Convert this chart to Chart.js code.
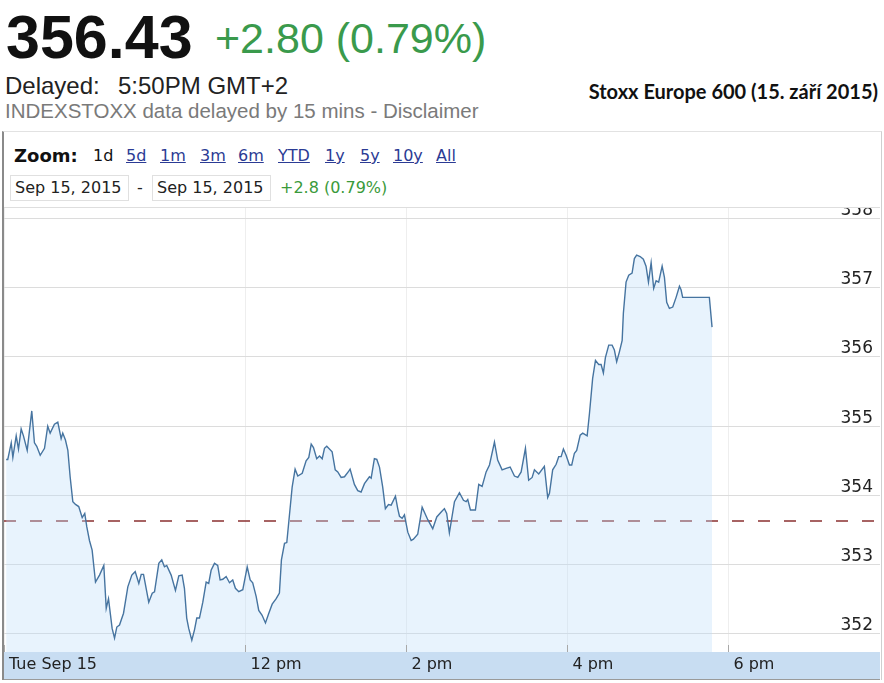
<!DOCTYPE html>
<html>
<head>
<meta charset="utf-8">
<script src="https://cdn.jsdelivr.net/npm/chart.js@4/dist/chart.umd.min.js"></script>
<style>
  body { margin: 0; background: #fff; }
  #page { position: relative; width: 884px; height: 683px; overflow: hidden; background: #fff; }
  .t { position: absolute; white-space: nowrap; line-height: 1; }
  .arial { font-family: "Liberation Sans", Arial, sans-serif; }
  .dv { font-family: "DejaVu Sans", Verdana, sans-serif; font-size: 16px; }
  #frame { position: absolute; left: 2px; top: 131px; width: 877px; height: 548px;
           border-left: 2px solid #8a8a8a; border-right: 1px solid #cfcfcf; border-top: 1px solid #e2e2e2; }
  #panel { position: absolute; left: 4px; top: 132px; width: 876px; height: 75px; background: #fff;
           border-bottom: 1px solid #dedede; z-index: 2; }
  .box { position: absolute; top: 175px; height: 24px; border: 1px solid #e0e0e0; z-index: 3; }
  .lnk { color: #2b3b94; text-decoration: underline; }
  canvas { position: absolute; left: 0; top: 196px; }
</style>
</head>
<body>
<div id="page">
  <div class="t arial" style="left:6px;top:7px;font-size:61px;font-weight:bold;color:#111;">356.43</div>
  <div class="t arial" style="left:215px;top:17px;font-size:43px;color:#3a9a4c;">+2.80 (0.79%)</div>
  <div class="t arial" style="left:5px;top:74px;font-size:24px;color:#222;">Delayed:</div>
  <div class="t arial" style="left:118px;top:74px;font-size:24px;color:#222;">5:50PM GMT+2</div>
  <div class="t arial" style="left:5px;top:101px;font-size:20.5px;color:#7a7a7a;">INDEXSTOXX data delayed by 15 mins - Disclaimer</div>
  <div class="t" style="right:6px;top:81px;font-size:20px;font-weight:bold;color:#111;font-family:Lato,'Open Sans',sans-serif;">Stoxx Europe 600 (15. září 2015)</div>

  <div id="frame"></div>
  <canvas id="chart" width="884" height="487"></canvas>
  <div id="panel"></div>

  <div class="t dv" style="left:14px;top:147px;font-size:18px;font-weight:bold;color:#111;z-index:3;">Zoom:</div>
  <div class="t dv" style="left:93px;top:148px;color:#111;z-index:3;">1d</div>
  <div class="t dv lnk" style="left:126px;top:148px;z-index:3;">5d</div>
  <div class="t dv lnk" style="left:160px;top:148px;z-index:3;">1m</div>
  <div class="t dv lnk" style="left:200px;top:148px;z-index:3;">3m</div>
  <div class="t dv lnk" style="left:238px;top:148px;z-index:3;">6m</div>
  <div class="t dv lnk" style="left:278px;top:148px;z-index:3;">YTD</div>
  <div class="t dv lnk" style="left:325px;top:148px;z-index:3;">1y</div>
  <div class="t dv lnk" style="left:360px;top:148px;z-index:3;">5y</div>
  <div class="t dv lnk" style="left:393px;top:148px;z-index:3;">10y</div>
  <div class="t dv lnk" style="left:436px;top:148px;z-index:3;">All</div>

  <div class="box" style="left:10px;width:117px;"></div>
  <div class="box" style="left:152px;width:117px;"></div>
  <div class="t dv" style="left:15px;top:180px;color:#222;z-index:3;">Sep 15, 2015</div>
  <div class="t dv" style="left:137px;top:180px;color:#222;z-index:3;">-</div>
  <div class="t dv" style="left:157px;top:180px;color:#222;z-index:3;">Sep 15, 2015</div>
  <div class="t dv" style="left:280px;top:180px;color:#3a9a3a;z-index:3;">+2.8 (0.79%)</div>
</div>

<script>
// minutes after the 9:00 open
const minutesAfterOpen = [
  1.6, 2.8, 5.4, 6.6, 9.1, 10.8, 12.8, 14.5, 17.3, 20.7, 22.7, 24.4, 27.0, 30.2, 32.6, 34.4,
  37.6, 40.1, 42.6, 43.8, 45.8, 47.6, 49.3, 51.3, 53.3, 55.7, 58.3, 60.2, 61.7, 63.7, 65.7, 68.2,
  71.2, 74.4, 76.2, 77.9, 80.6, 82.4, 84.1, 86.1, 89.1, 92.3, 95.3, 97.8, 100.5, 102.3, 104.0, 107.9,
  110.5, 112.2, 115.4, 117.6, 119.6, 121.3, 124.6, 127.8, 130.3, 132.8, 134.5, 136.2, 137.7, 140.0,
  142.0, 143.7, 145.7, 148.2, 150.7, 152.6, 154.4, 156.9, 159.3, 161.1, 163.1, 165.6, 168.1, 170.5,
  172.5, 175.0, 178.0, 181.3, 183.5, 185.4, 188.0, 189.9, 192.4, 194.9, 197.4, 199.9, 202.9, 205.3,
  206.8, 209.1, 210.8, 212.3, 214.8, 217.0, 219.0, 222.3, 225.2, 227.2, 229.0, 230.7, 233.1, 235.2,
  237.2, 238.9, 240.6, 244.6, 246.9, 248.8, 251.3, 253.8, 257.0, 258.0, 261.2, 263.7, 266.2, 268.7,
  272.4, 273.7, 276.1, 277.9, 279.9, 282.3, 284.3, 286.6, 288.6, 291.8, 293.5, 294.8, 296.8, 298.5,
  301.0, 303.5, 305.2, 308.4, 311.7, 315.9, 319.6, 322.6, 325.9, 328.3, 330.0, 332.0, 335.8, 339.5,
  342.5, 344.5, 345.7, 347.7, 351.4, 353.9, 356.4, 359.4, 361.9, 365.6, 368.0, 371.3, 374.3, 377.3,
  380.5, 383.0, 385.5, 388.7, 391.1, 393.7, 395.4, 398.6, 402.8, 405.3, 406.6, 409.0, 411.6, 413.5,
  415.3, 417.0, 419.0, 421.5, 423.2, 425.2, 426.9, 429.5, 431.4, 434.7, 436.4, 438.8, 440.9, 443.3,
  445.1, 446.8, 448.3, 450.8, 453.3, 455.0, 456.7, 458.7, 460.8, 461.7, 463.7, 465.7, 468.2, 469.9,
  471.6, 474.2, 476.6, 478.6, 480.4, 482.4, 484.3, 486.1, 488.0, 490.6, 492.3, 494.0, 496.0, 498.5,
  501.0, 503.5, 504.7, 505.9, 525.8, 527.8
];
const prices = [
  354.52, 354.52, 354.76, 354.55, 354.86, 354.67, 354.96, 354.86, 354.65, 355.22, 354.76, 354.71, 354.58, 354.68, 355.00, 354.90,
  355.03, 355.06, 354.82, 354.90, 354.80, 354.65, 354.27, 353.91, 353.87, 353.84, 353.68, 353.74, 353.55, 353.35, 353.21, 352.75,
  352.85, 352.99, 352.37, 352.51, 352.08, 351.94, 352.10, 352.13, 352.30, 352.68, 352.85, 352.90, 352.73, 352.86, 352.86, 352.46,
  352.59, 352.61, 353.02, 353.07, 352.97, 352.99, 352.85, 352.63, 352.84, 352.85, 352.66, 352.23, 352.08, 351.91,
  352.06, 352.23, 352.23, 352.46, 352.75, 352.73, 352.92, 353.02, 352.99, 352.78, 352.79, 352.83, 352.74, 352.78,
  352.66, 352.61, 352.64, 352.97, 352.78, 352.74, 352.54, 352.34, 352.27, 352.16, 352.30, 352.43, 352.51, 352.59,
  353.07, 353.31, 353.32, 353.62, 354.12, 354.38, 354.28, 354.32, 354.50, 354.55, 354.74, 354.69, 354.53, 354.57,
  354.53, 354.68, 354.71, 354.63, 354.37, 354.34, 354.26, 354.27, 354.35, 354.38, 354.16, 354.07, 354.05, 354.17,
  354.27, 354.25, 354.53, 354.52, 354.41, 354.12, 353.81, 353.87, 353.86, 353.99, 353.81, 353.70, 353.67, 353.72,
  353.47, 353.35, 353.37, 353.44, 353.83, 353.65, 353.52, 353.69, 353.76, 353.81, 353.74, 353.46, 353.91, 354.04,
  353.93, 353.91, 353.94, 353.79, 353.79, 354.16, 354.13, 354.34, 354.44, 354.77, 354.51, 354.37, 354.39, 354.41,
  354.28, 354.26, 354.34, 354.68, 354.22, 354.26, 354.37, 354.31, 354.42, 353.97, 354.03, 354.37, 354.45, 354.56,
  354.56, 354.67, 354.58, 354.44, 354.44, 354.61, 354.65, 354.87, 354.90, 354.86, 355.18, 355.69, 355.95, 355.89,
  355.89, 355.77, 355.99, 356.17, 356.17, 356.10, 355.93, 356.07, 356.24, 356.63, 357.08, 357.18, 357.21, 357.42,
  357.47, 357.45, 357.41, 357.31, 357.08, 357.36, 356.99, 357.10, 357.08, 357.31, 357.15, 356.79, 356.70, 356.72,
  356.86, 357.02, 356.97, 356.86, 356.86, 356.43
];
const previousClose = 353.63;

const timeTicks = [0, 180, 300, 420, 540];
const timeLabels = ["Tue Sep 15", "12 pm", "2 pm", "4 pm", "6 pm"];
const priceTicks = [352, 353, 354, 355, 356, 357, 358];

const xMin = 0;
const xMax = 653;

Chart.defaults.font.family = "'DejaVu Sans', Verdana, sans-serif";

// blue strip under the plot and the little tick marks on it
const axisBand = {
  id: "axisBand",
  beforeDraw(chart) {
    const { ctx, chartArea } = chart;
    ctx.save();
    ctx.fillStyle = "#c8ddf2";
    ctx.fillRect(chartArea.left, chartArea.bottom, chartArea.right - chartArea.left, 27);
    ctx.fillStyle = "#9a9a9a";
    ctx.fillRect(chartArea.left, chartArea.bottom + 27, chartArea.right - chartArea.left, 1);
    ctx.restore();
  },
  afterDatasetsDraw(chart) {
    const { ctx, chartArea, scales } = chart;
    ctx.save();
    ctx.strokeStyle = "#a8a8a8";
    ctx.lineWidth = 1;
    timeTicks.forEach((t) => {
      const x = Math.round(scales.x.getPixelForValue(t)) + 0.5;
      ctx.beginPath();
      ctx.moveTo(x, chartArea.bottom - 7);
      ctx.lineTo(x, chartArea.bottom);
      ctx.stroke();
    });
    ctx.restore();
  },
};

new Chart(document.getElementById("chart"), {
  type: "line",
  data: {
    datasets: [
      {
        data: minutesAfterOpen.map((m, i) => ({ x: m, y: prices[i] })),
        borderColor: "#4674a0",
        borderWidth: 1.4,
        backgroundColor: "rgba(190,222,248,0.35)",
        fill: "start",
        pointRadius: 0,
        tension: 0,
      },
      {
        data: [
          { x: xMin, y: previousClose },
          { x: xMax, y: previousClose },
        ],
        borderColor: "#8a3030",
        borderWidth: 1.5,
        borderDash: [12, 14],
        pointRadius: 0,
        fill: false,
      },
    ],
  },
  options: {
    responsive: false,
    animation: false,
    layout: { padding: { top: 12, bottom: 4, left: 4, right: 0 } },
    plugins: { legend: { display: false }, tooltip: { enabled: false } },
    scales: {
      x: {
        type: "linear",
        min: xMin,
        max: xMax,
        afterBuildTicks: (s) => { s.ticks = timeTicks.map((v) => ({ value: v })); },
        afterFit: (s) => { s.height = 27; },
        grid: { color: "#eeeeee", drawTicks: false },
        border: { display: false },
        ticks: {
          callback: (v) => timeLabels[timeTicks.indexOf(v)],
          align: "start",
          labelOffset: 5,
          padding: 3,
          autoSkip: false,
          maxRotation: 0,
          color: "#222",
          font: { size: 16 },
        },
      },
      y: {
        position: "right",
        min: 351.74,
        max: 358.15,
        afterBuildTicks: (s) => { s.ticks = priceTicks.map((v) => ({ value: v })); },
        afterFit: (s) => { s.width = 4; },
        grid: { color: "#dcdcdc", drawTicks: false },
        border: { display: false },
        ticks: {
          mirror: true,
          padding: -7,
          labelOffset: -8,
          color: "#222",
          font: { size: 17 },
        },
      },
    },
  },
  plugins: [axisBand],
});
</script>
</body>
</html>
